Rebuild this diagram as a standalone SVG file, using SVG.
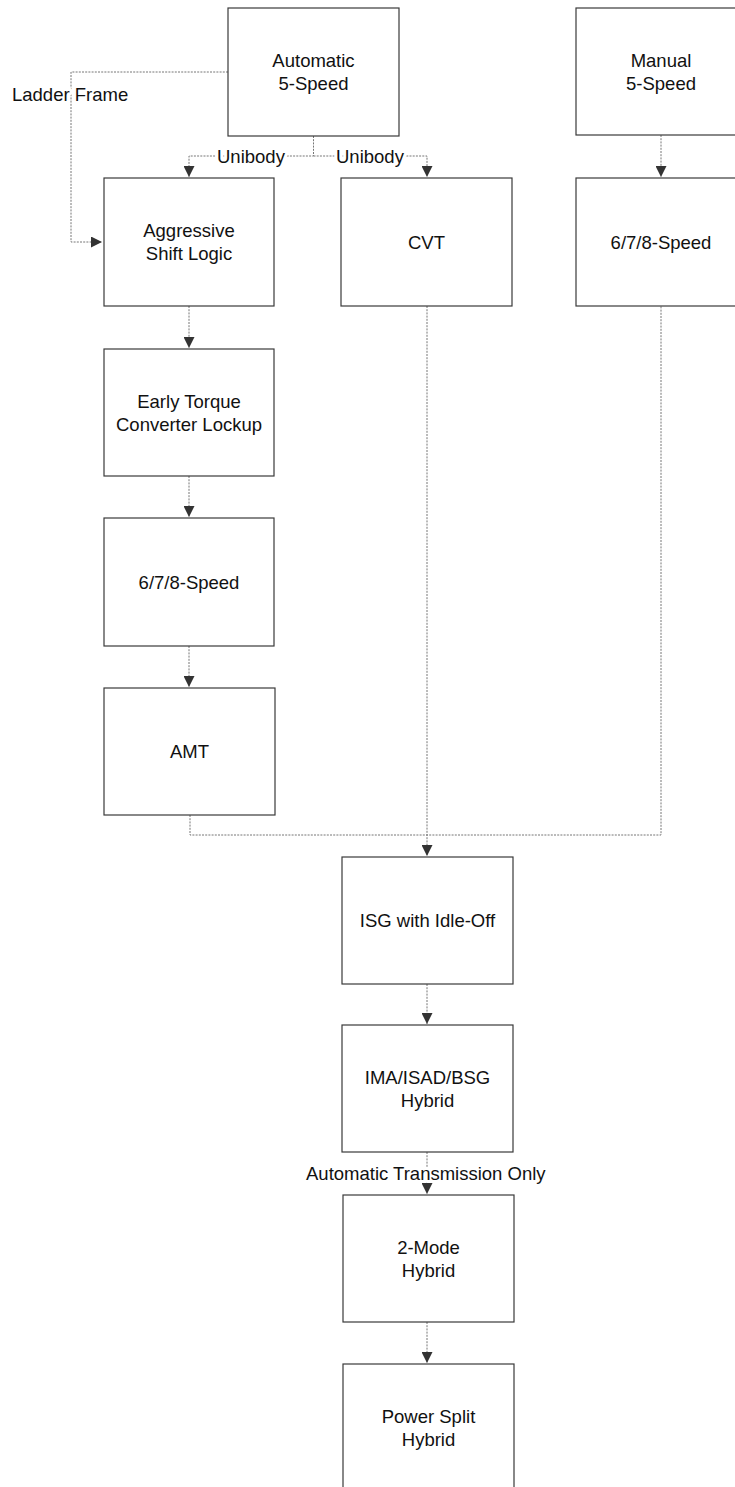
<svg xmlns="http://www.w3.org/2000/svg" width="735" height="1487" viewBox="0 0 735 1487">
<defs>
<marker id="arr" viewBox="0 0 10 10" refX="10" refY="5" markerWidth="11" markerHeight="11" markerUnits="userSpaceOnUse" orient="auto">
<path d="M0,0 L10,5 L0,10 Z" fill="#333"/>
</marker>
<style>
.box{fill:#fff;stroke:#3a3a3a;stroke-width:1.2}
.lbl{font-family:"Liberation Sans",Arial,sans-serif;font-size:18.5px;fill:#111;text-anchor:middle}
.edge{fill:none;stroke:#777;stroke-width:1;stroke-dasharray:2 1.2}
.elbl{font-family:"Liberation Sans",Arial,sans-serif;font-size:18.5px;fill:#111;stroke:#fff;stroke-width:6;paint-order:stroke;stroke-linejoin:round}
</style>
</defs>
<rect width="735" height="1487" fill="#fff"/>
<g id="connectors">
<path class="edge" d="M228,72 H71 V242 H102" marker-end="url(#arr)"/>
<path class="edge" d="M313.5,136 V156 H189 V177" marker-end="url(#arr)"/>
<path class="edge" d="M313.5,156 H427 V177" marker-end="url(#arr)"/>
<path class="edge" d="M661,135 V177" marker-end="url(#arr)"/>
<path class="edge" d="M189,306 V348" marker-end="url(#arr)"/>
<path class="edge" d="M189,476 V517" marker-end="url(#arr)"/>
<path class="edge" d="M189,646 V687" marker-end="url(#arr)"/>
<path class="edge" d="M190,815 V835 H661 V306"/>
<path class="edge" d="M427,306 V856" marker-end="url(#arr)"/>
<path class="edge" d="M427,984 V1024" marker-end="url(#arr)"/>
<path class="edge" d="M427,1152 V1194" marker-end="url(#arr)"/>
<path class="edge" d="M427,1322 V1363" marker-end="url(#arr)"/>
<text class="elbl" x="12" y="101">Ladder Frame</text>
<text class="elbl" x="217" y="163">Unibody</text>
<text class="elbl" x="336" y="163">Unibody</text>
<text class="elbl" x="306" y="1180">Automatic Transmission Only</text>
</g>
<g id="n_auto5"><rect class="box" x="228" y="8" width="171" height="128"/><text class="lbl" x="313.5" y="67">Automatic</text><text class="lbl" x="313.5" y="90">5-Speed</text></g>
<g id="n_manual5"><rect class="box" x="576" y="8" width="171" height="127"/><text class="lbl" x="661" y="67">Manual</text><text class="lbl" x="661" y="90">5-Speed</text></g>
<g id="n_aggr"><rect class="box" x="104" y="178" width="170" height="128"/><text class="lbl" x="189" y="237">Aggressive</text><text class="lbl" x="189" y="260">Shift Logic</text></g>
<g id="n_cvt"><rect class="box" x="341" y="178" width="171" height="128"/><text class="lbl" x="426.5" y="249">CVT</text></g>
<g id="n_man678"><rect class="box" x="576" y="178" width="171" height="128"/><text class="lbl" x="661" y="249">6/7/8-Speed</text></g>
<g id="n_early"><rect class="box" x="104" y="349" width="170" height="127"/><text class="lbl" x="189" y="408">Early Torque</text><text class="lbl" x="189" y="431">Converter Lockup</text></g>
<g id="n_auto678"><rect class="box" x="104" y="518" width="170" height="128"/><text class="lbl" x="189" y="589">6/7/8-Speed</text></g>
<g id="n_amt"><rect class="box" x="104" y="688" width="171" height="127"/><text class="lbl" x="189.5" y="758">AMT</text></g>
<g id="n_isg"><rect class="box" x="342" y="857" width="171" height="127"/><text class="lbl" x="427.5" y="927">ISG with Idle-Off</text></g>
<g id="n_ima"><rect class="box" x="342" y="1025" width="171" height="127"/><text class="lbl" x="427.5" y="1084">IMA/ISAD/BSG</text><text class="lbl" x="427.5" y="1107">Hybrid</text></g>
<g id="n_2mode"><rect class="box" x="343" y="1195" width="171" height="127"/><text class="lbl" x="428.5" y="1254">2-Mode</text><text class="lbl" x="428.5" y="1277">Hybrid</text></g>
<g id="n_psplit"><rect class="box" x="343" y="1364" width="171" height="128"/><text class="lbl" x="428.5" y="1423">Power Split</text><text class="lbl" x="428.5" y="1446">Hybrid</text></g>
</svg>
